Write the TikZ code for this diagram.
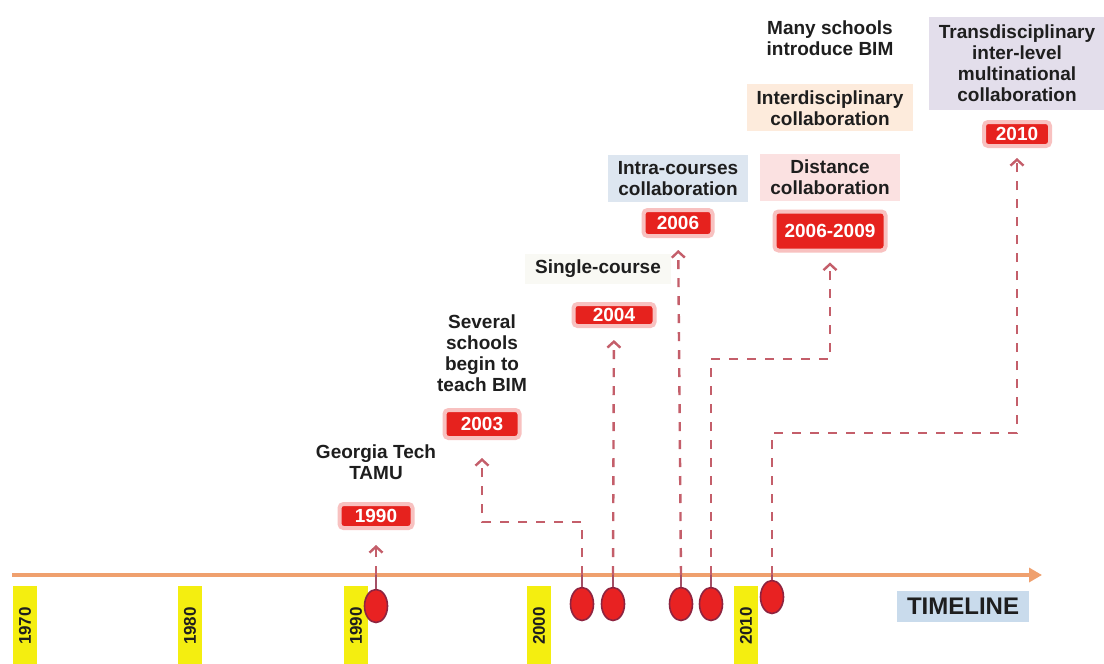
\documentclass[tikz,border=0pt]{standalone}
\usepackage{fontspec}
\setmainfont{Liberation Sans}
\usepackage{xcolor}
\usepackage{tikz}
\usetikzlibrary{shapes.geometric, arrows.meta, positioning}
\definecolor{AxisOrange}{HTML}{EFA06E}
\definecolor{LinkRose}{HTML}{C45E6A}
\definecolor{BoxRed}{HTML}{E6221E}
\definecolor{PinRed}{HTML}{E82222}
\definecolor{PinEdge}{HTML}{8E2440}
\definecolor{MarkYellow}{HTML}{F4EE10}
\definecolor{InkGray}{HTML}{1E1E1E}
\definecolor{TimeBlue}{HTML}{C9DBEC}
\definecolor{IntraBlue}{HTML}{DDE6F0}
\definecolor{DistPink}{HTML}{FBE1E1}
\definecolor{InterPeach}{HTML}{FDEBDC}
\definecolor{TransLilac}{HTML}{E3DEEB}
\definecolor{SingleGray}{HTML}{F9F9F4}

\begin{document}
\begin{tikzpicture}[
  x=0.5pt, y=-0.5pt,
  yearbox/.style={rectangle, rounded corners=2pt, fill=BoxRed, draw=BoxRed!28,
    line width=2pt, text=white, font=\bfseries\fontsize{9.5}{10}\selectfont,
    inner sep=1pt},
  plain/.style={font=\bfseries\fontsize{9.5}{10.5}\selectfont, text=InkGray,
    align=center, inner sep=2pt},
  tagbox/.style={plain, inner xsep=5pt, inner ysep=3pt},
  decade/.style={rotate=90, fill=MarkYellow, text=InkGray,
    font=\bfseries\fontsize{8.5}{9}\selectfont, minimum width=40pt,
    minimum height=12pt, inner sep=1pt},
  pin/.style={ellipse, fill=PinRed, draw=PinEdge, line width=0.8pt,
    minimum width=11.5pt, minimum height=16.5pt, inner sep=0pt},
  stem/.style={PinEdge!80, line width=1pt},
  axis/.style={AxisOrange, line width=2pt, -{Triangle[length=6.5pt, width=7pt]}},
  link/.style={LinkRose, line width=1.2pt, dash pattern=on 4.5pt off 4.5pt,
    -{Straight Barb[length=3pt, width=6.5pt]}, shorten >=6pt}
]
\useasboundingbox[fill=white] (0,0) rectangle (1104,664);

% timeline
\coordinate (tl0) at (12,575);
\coordinate (tl1) at (1042,575);
\draw[axis] (tl0) -- (tl1);

\node[decade] (d70) at (25,626) {1970};
\node[decade] (d80) at (190,626) {1980};
\node[decade] (d90) at (356,626) {1990};
\node[decade] (d00) at (539,626) {2000};
\node[decade] (d10) at (746,626) {2010};

\node[fill=TimeBlue, font=\bfseries\fontsize{12}{12}\selectfont, text=InkGray,
  minimum width=66pt, minimum height=15.5pt] (tline) at (963,606) {TIMELINE};

% pins on the timeline
\node[pin] (m1) at (376,606) {};
\node[pin] (m2) at (582,604) {};
\node[pin] (m3) at (613,604) {};
\node[pin] (m4) at (681,604) {};
\node[pin] (m5) at (711,604) {};
\node[pin] (m6) at (772,597) {};

\foreach \m in {m1,m2,m3,m4,m5,m6}
  \draw[stem] (\m.north) -- (\m |- tl0);

% year boxes
\node[yearbox, minimum width=36.5pt, minimum height=12pt] (y1990) at (376,516) {1990};
\node[yearbox, minimum width=37.5pt, minimum height=14pt] (y2003) at (482,424) {2003};
\node[yearbox, minimum width=40.5pt, minimum height=11pt] (y2004) at (614,315) {2004};
\node[yearbox, minimum width=34.5pt, minimum height=13pt] (y2006) at (678,223) {2006};
\node[yearbox, minimum width=55.5pt, minimum height=19.5pt] (y0609) at (830,231) {2006-2009};
\node[yearbox, minimum width=33pt, minimum height=12pt] (y2010) at (1017,134) {2010};

% what happened
\node[plain, above=9pt of y1990] (lGT) {Georgia Tech\\TAMU};
\node[plain, above=6pt of y2003] (lSev) {Several\\schools\\begin to\\teach BIM};
\node[tagbox, fill=SingleGray, above=9pt of y2004, xshift=-8pt] (lSingle) {Single-course};
\node[tagbox, fill=IntraBlue, above=3pt of y2006] (lIntra) {Intra-courses\\collaboration};
\node[tagbox, fill=DistPink, above=4pt of y0609] (lDist) {Distance\\collaboration};
\node[tagbox, fill=InterPeach, above=11pt of lDist] (lInter) {Interdisciplinary\\collaboration};
\node[plain, above=12pt of lInter] (lMany) {Many schools\\introduce BIM};
\node[tagbox, fill=TransLilac, above=5pt of y2010, inner ysep=4pt] (lTrans) {Transdisciplinary\\inter-level\\multinational\\collaboration};

% links
\draw[link, shorten >=7.5pt] (m1 |- tl0) -- (y1990);
\draw[link, shorten >=9pt] (m2 |- tl0) -- (m2 |- 0,522) -| (y2003);
\draw[link] (m3 |- tl0) -- (y2004);
\draw[link] (m4 |- tl0) -- (y2006);
\draw[link, shorten >=5pt] (m5 |- tl0) -- (m5 |- 0,359) -| (y0609);
\draw[link, shorten >=5pt] (m6 |- tl0) -- (m6 |- 0,433) -| (y2010);

\end{tikzpicture}
\end{document}
